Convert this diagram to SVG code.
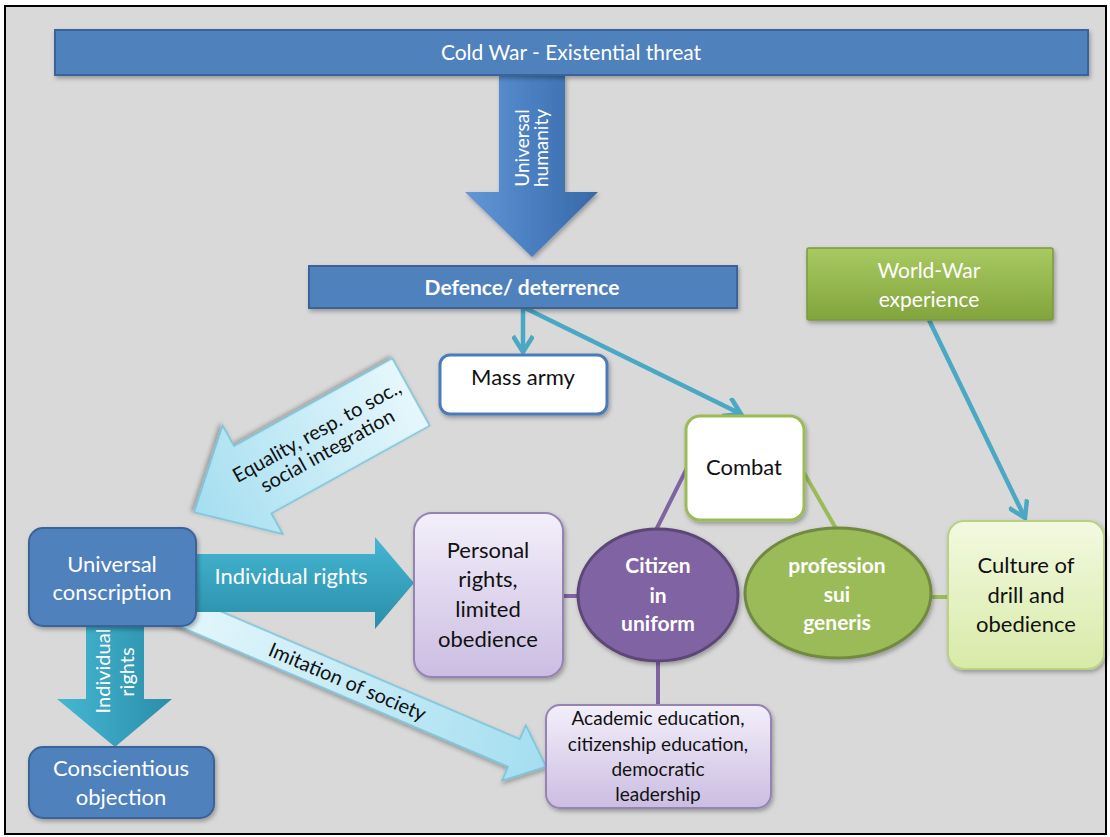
<svg xmlns="http://www.w3.org/2000/svg" width="1110" height="837" viewBox="0 0 1110 837">
<defs>
<style>
.t{font-family:Lato,"Liberation Sans",sans-serif;text-anchor:middle}
.w{fill:#ffffff}
.k{fill:#111111}
.b{font-weight:bold}
.s22{font-size:22px}
.s21{font-size:21px}
.s20{font-size:20px}
.s19{font-size:19px}
.s18{font-size:18px}
.conn{fill:none;stroke:#4aa8c4;stroke-width:4.5}
.pl{fill:none;stroke:#8064a2;stroke-width:4}
.gl{fill:none;stroke:#9bbb59;stroke-width:4}
.blue{fill:#4f81bd;stroke:#3a639a;stroke-width:2}
</style>
<marker id="ah" viewBox="0 0 22 22" refX="19" refY="11" markerWidth="22" markerHeight="22" markerUnits="userSpaceOnUse" orient="auto">
<path d="M3,1 L19,11 L3,21" fill="none" stroke="#4aa8c4" stroke-width="4.5"/>
</marker>
<linearGradient id="gUH" x1="0" y1="0" x2="1" y2="0">
<stop offset="0" stop-color="#6497d6"/><stop offset="0.5" stop-color="#4a7fc1"/><stop offset="1" stop-color="#3868a6"/>
</linearGradient>
<linearGradient id="gTealV" x1="0" y1="0" x2="0" y2="1">
<stop offset="0" stop-color="#45b6d2"/><stop offset="1" stop-color="#2a8ea9"/>
</linearGradient>
<linearGradient id="gTealH" x1="0" y1="0" x2="1" y2="0">
<stop offset="0" stop-color="#46b7d3"/><stop offset="1" stop-color="#2a8ea9"/>
</linearGradient>
<linearGradient id="gLight" x1="0" y1="0" x2="1" y2="0">
<stop offset="0" stop-color="#e6f7fc"/><stop offset="1" stop-color="#a4def0"/>
</linearGradient>
<linearGradient id="gLav" x1="0" y1="0" x2="0" y2="1">
<stop offset="0" stop-color="#f3effa"/><stop offset="1" stop-color="#cbbde2"/>
</linearGradient>
<linearGradient id="gLGreen" x1="0" y1="0" x2="0" y2="1">
<stop offset="0" stop-color="#f3f9e0"/><stop offset="1" stop-color="#d8eaa8"/>
</linearGradient>
<linearGradient id="gGreen" x1="0" y1="0" x2="0" y2="1">
<stop offset="0" stop-color="#a9ca62"/><stop offset="1" stop-color="#82a43c"/>
</linearGradient>
<filter id="sh" x="-10%" y="-10%" width="130%" height="140%">
<feDropShadow dx="1.5" dy="2.5" stdDeviation="2" flood-color="#000" flood-opacity="0.3"/>
</filter>
</defs>

<rect x="0" y="0" width="1110" height="837" fill="#ffffff"/>
<rect x="5" y="6" width="1101" height="828" fill="#d9d9d9" stroke="#000000" stroke-width="2"/>

<g id="connectors">
<polygon points="499,75 565,75 565,192 598,192 532,257 465,192 499,192" fill="url(#gUH)" filter="url(#sh)"/>
<text class="t w s19" transform="translate(529,148) rotate(-90)">Universal</text>
<text class="t w s19" transform="translate(548,148) rotate(-90)">humanity</text>

<line class="conn" x1="523" y1="308" x2="523" y2="352" marker-end="url(#ah)"/>
<line class="conn" x1="525" y1="308" x2="741" y2="414" marker-end="url(#ah)"/>
<line class="conn" x1="929" y1="320" x2="1025" y2="518" marker-end="url(#ah)"/>

<line class="pl" x1="690" y1="462" x2="655" y2="532"/>
<line class="gl" x1="800" y1="466" x2="838" y2="532"/>
<line class="pl" x1="560" y1="596" x2="582" y2="596"/>
<line class="pl" x1="658" y1="658" x2="658" y2="707"/>
<line class="gl" x1="928" y1="597" x2="951" y2="597" stroke-width="5"/>

<g transform="translate(411,392) rotate(151)">
<polygon points="0,-38.6 181,-38.6 181,-62 248,0 181,62 181,38.6 0,38.6" fill="url(#gLight)" stroke="#74c2da" stroke-width="1.5" filter="url(#sh)"/>
</g>
<g transform="translate(322,441) rotate(-29)">
<text class="t k s20" x="0" y="-4">Equality, resp.  to soc.,</text>
<text class="t k s20" x="0" y="18">social integration</text>
</g>

<g transform="translate(170,606) rotate(23.13)">
<polygon points="0,-15 374,-15 374,-30 409,0 374,30 374,15 0,15" fill="url(#gLight)" stroke="#74c2da" stroke-width="1.5" filter="url(#sh)"/>
<text class="t k s20" x="193" y="7">Imitation of society</text>
</g>

<polygon points="196,554 375,554 375,537 414,583 375,629 375,612 196,612" fill="url(#gTealV)"/>
<text class="t w s22" x="291" y="584">Individual rights</text>

<polygon points="86,620 144,620 144,699 172,699 115,747 57,699 86,699" fill="url(#gTealH)"/>
<text class="t w s20" transform="translate(110,671) rotate(-90)">Individual</text>
<text class="t w s20" transform="translate(134,672) rotate(-90)">rights</text>
</g>

<g id="cold-war">
<rect class="blue" x="55" y="30" width="1033" height="45" filter="url(#sh)"/>
<text class="t w s21" x="571" y="60">Cold War - Existential threat</text>
</g>

<g id="defence">
<rect class="blue" x="309" y="266" width="428" height="42" filter="url(#sh)"/>
<text class="t w b s21" x="522" y="295">Defence/ deterrence</text>
</g>

<g id="mass-army">
<rect x="440" y="355" width="167" height="59" rx="10" fill="#ffffff" stroke="#4a7cb8" stroke-width="3" filter="url(#sh)"/>
<text class="t k s22" x="523" y="385">Mass army</text>
</g>

<g id="combat">
<rect x="686" y="416" width="118" height="104" rx="14" fill="#ffffff" stroke="#9bbb59" stroke-width="3" filter="url(#sh)"/>
<text class="t k s22" x="744" y="475">Combat</text>
</g>

<g id="world-war">
<rect x="807" y="248" width="246" height="72" rx="2" fill="url(#gGreen)" stroke="#7a9a3e" stroke-width="1.5" filter="url(#sh)"/>
<text class="t w s21" x="929" y="278">World-War</text>
<text class="t w s21" x="929" y="307">experience</text>
</g>

<g id="culture">
<rect x="948" y="521" width="156" height="148" rx="16" fill="url(#gLGreen)" stroke="#b9d086" stroke-width="2" filter="url(#sh)"/>
<text class="t k s22" x="1026" y="573">Culture of</text>
<text class="t k s22" x="1026" y="603">drill and</text>
<text class="t k s22" x="1026" y="632">obedience</text>
</g>

<g id="profession">
<ellipse cx="838" cy="593" rx="93" ry="65" fill="#9bbb59" stroke="#71893f" stroke-width="3" filter="url(#sh)"/>
<text class="t w b s21" x="837" y="573">profession</text>
<text class="t w b s21" x="837" y="602">sui</text>
<text class="t w b s21" x="837" y="630">generis</text>
</g>

<g id="citizen">
<ellipse cx="658" cy="595" rx="80" ry="66" fill="#8064a2" stroke="#5c4776" stroke-width="3" filter="url(#sh)"/>
<text class="t w b s21" x="658" y="573">Citizen</text>
<text class="t w b s21" x="658" y="603">in</text>
<text class="t w b s21" x="658" y="631">uniform</text>
</g>

<g id="personal-rights">
<rect x="414" y="513" width="149" height="164" rx="18" fill="url(#gLav)" stroke="#9583b3" stroke-width="2" filter="url(#sh)"/>
<text class="t k s22" x="488" y="558">Personal</text>
<text class="t k s22" x="488" y="587">rights,</text>
<text class="t k s22" x="488" y="617">limited</text>
<text class="t k s22" x="488" y="647">obedience</text>
</g>

<g id="academic">
<rect x="546" y="705" width="225" height="103" rx="14" fill="url(#gLav)" stroke="#9583b3" stroke-width="2" filter="url(#sh)"/>
<text class="t k s19" x="658" y="725">Academic education,</text>
<text class="t k s19" x="658" y="751">citizenship education,</text>
<text class="t k s19" x="658" y="776">democratic</text>
<text class="t k s19" x="658" y="801">leadership</text>
</g>

<g id="universal-conscription">
<rect class="blue" x="29" y="528" width="167" height="98" rx="14" filter="url(#sh)"/>
<text class="t w s22" x="112" y="572">Universal</text>
<text class="t w s22" x="112" y="600">conscription</text>
</g>

<g id="conscientious-objection">
<rect class="blue" x="29" y="747" width="185" height="71" rx="14" filter="url(#sh)"/>
<text class="t w s22" x="121" y="776">Conscientious</text>
<text class="t w s22" x="121" y="805">objection</text>
</g>
</svg>
